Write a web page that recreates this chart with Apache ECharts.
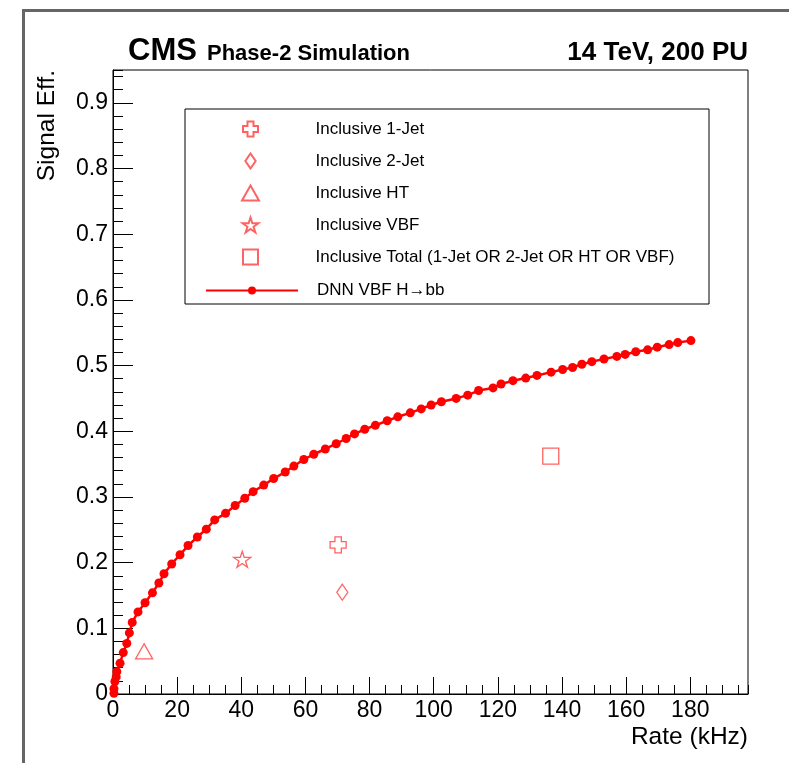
<!DOCTYPE html>
<html>
<head>
<meta charset="utf-8">
<script src="https://cdn.jsdelivr.net/npm/echarts@6/dist/echarts.min.js"></script>
<style>
html,body{margin:0;padding:0;background:#fff;}
#chart{width:789px;height:763px;}
</style>
</head>
<body>
<div id="chart"></div>
<script>
// ---- data ----
var dnnRate = [0.3,0.3,0.6,1.0,1.2,2.2,3.2,4.3,5.1,6.0,7.8,10.0,12.3,14.3,15.9,18.3,20.9,23.4,26.3,29.1,31.7,35.1,38.1,41.1,43.7,47.0,50.1,53.7,56.4,59.5,62.6,66.2,69.6,72.7,75.3,78.5,81.8,85.5,88.8,92.7,96.1,99.2,102.4,107.0,110.6,114.0,118.5,121.0,124.7,128.7,132.2,136.6,140.2,143.3,146.2,149.3,153.1,157.1,159.7,163.0,166.7,169.7,173.4,176.1,180.2];
var dnnEff = [0.001,0.008,0.019,0.026,0.034,0.047,0.063,0.077,0.093,0.109,0.125,0.139,0.154,0.169,0.183,0.198,0.212,0.226,0.239,0.251,0.265,0.275,0.287,0.298,0.308,0.318,0.328,0.338,0.347,0.357,0.365,0.373,0.381,0.389,0.396,0.403,0.409,0.416,0.422,0.428,0.434,0.440,0.445,0.450,0.455,0.462,0.466,0.472,0.477,0.481,0.485,0.490,0.494,0.497,0.502,0.506,0.510,0.514,0.517,0.521,0.524,0.528,0.532,0.535,0.538];
var seriesNames = ['Inclusive 1-Jet','Inclusive 2-Jet','Inclusive HT','Inclusive VBF','Inclusive Total (1-Jet OR 2-Jet OR HT OR VBF)','DNN VBF H\u2192bb'];
var oneJet = [70.2, 0.227];
var twoJet = [71.5, 0.155];
var incHT = [9.7, 0.065];
var incVBF = [40.3, 0.205];
var incTotal = [136.5, 0.362];
var xTicks = {min:0, max:198, major:20, minor:5};
var yTicks = {min:0, max:0.95, major:0.1, minor:0.02};

// ---- chart ----
var FONT = '"Liberation Sans", Arial, Helvetica, sans-serif';
var RED = '#ff0000';
var MRED = '#ff3b3b';
var crossPath = 'path://M3,0H7V3H10V7H7V10H3V7H0V3H3Z';
var starPath = 'path://M100,0L122.45,69.1L195.1,69.1L136.3,111.8L158.8,180.9L100,138.2L41.2,180.9L63.7,111.8L4.9,69.1L77.55,69.1Z';
var diamondPath = 'path://M5.5,0L11,8L5.5,16L0,8Z';
var trianglePath = 'path://M8.5,0L17,15L0,15Z';
var squarePath = 'path://M0,0H16V16H0Z';

function openMarker(name, pt, symbol, size){
  return {
    name: name, type:'scatter', xAxisIndex:0, yAxisIndex:0,
    data:[pt], symbol:symbol, symbolSize:size, symbolKeepAspect:false,
    itemStyle:{color:'rgba(255,255,255,0)', borderColor:MRED, borderWidth:1.3},
    emphasis:{disabled:true}, z:5
  };
}

var dnnData = dnnRate.map(function(r,i){return [r, dnnEff[i]];});

var chart = echarts.init(document.getElementById('chart'), null, {renderer:'canvas'});
var legendText = {fontSize:17, fontFamily:FONT, color:'#000', padding:[0,0,0,14], lineHeight:15};
var option = {
  animation:false,
  backgroundColor:'#fff',
  grid:{left:113, top:70, width:635, height:624, show:true, borderColor:'#000', borderWidth:1, backgroundColor:'#fff', containLabel:false},
  xAxis:[
    {type:'value', min:xTicks.min, max:xTicks.max, interval:xTicks.major, position:'bottom',
     axisLine:{show:true, lineStyle:{color:'#000', width:1}},
     axisTick:{show:true, inside:true, length:17, lineStyle:{color:'#000', width:1}},
     axisLabel:{show:true, showMaxLabel:false, margin:5, fontSize:23, fontFamily:FONT, color:'#000'},
     splitLine:{show:false}},
    {type:'value', min:xTicks.min, max:xTicks.max, interval:xTicks.minor, position:'bottom',
     axisLine:{show:false}, axisLabel:{show:false}, splitLine:{show:false},
     axisTick:{show:true, inside:true, length:9, lineStyle:{color:'#000', width:1}}}
  ],
  yAxis:[
    {type:'value', min:yTicks.min, max:yTicks.max, interval:yTicks.major, position:'left',
     axisLine:{show:true, lineStyle:{color:'#000', width:1}},
     axisTick:{show:true, inside:true, length:20, lineStyle:{color:'#000', width:1}},
     axisLabel:{show:true, showMaxLabel:false, margin:5, fontSize:23, fontFamily:FONT, color:'#000',
       formatter:function(v){return v===0?'0':v.toFixed(1);}},
     splitLine:{show:false}},
    {type:'value', min:yTicks.min, max:yTicks.max, interval:yTicks.minor, position:'left',
     axisLine:{show:false}, axisLabel:{show:false}, splitLine:{show:false},
     axisTick:{show:true, inside:true, length:10, lineStyle:{color:'#000', width:1}}}
  ],
  legend:[
    {data:seriesNames.slice(0,5), orient:'vertical', left:241, top:120.5, padding:0,
     itemWidth:92, itemHeight:15, itemGap:15, selectedMode:false, symbolKeepAspect:true,
     textStyle:legendText},
    {data:[seriesNames[5]], orient:'vertical', left:205, top:282, padding:0,
     itemWidth:92, itemHeight:10, selectedMode:false,
     textStyle:legendText}
  ],
  graphic:[
    {type:'rect', left:21, top:8, shape:{x:0,y:0,width:800,height:800}, style:{fill:'none', stroke:'#666', lineWidth:3}, silent:true, z:-10},
    {type:'rect', shape:{x:185, y:109, width:524, height:195}, style:{fill:'none', stroke:'#000', lineWidth:1}, silent:true, z:1},
    {type:'text', x:128, y:51, style:{text:'CMS', font:'bold 31px '+FONT, fill:'#000', textVerticalAlign:'middle', textAlign:'left'}},
    {type:'text', x:207, y:54, style:{text:'Phase-2 Simulation', font:'bold 22px '+FONT, fill:'#000', textVerticalAlign:'middle', textAlign:'left'}},
    {type:'text', x:748, y:53, style:{text:'14 TeV, 200 PU', font:'bold 26px '+FONT, fill:'#000', textVerticalAlign:'middle', textAlign:'right'}},
    {type:'text', x:748, y:737, style:{text:'Rate (kHz)', font:'24.5px '+FONT, fill:'#000', textVerticalAlign:'middle', textAlign:'right'}},
    {type:'text', x:47, y:70, rotation:Math.PI/2, style:{text:'Signal Eff.', font:'24.5px '+FONT, fill:'#000', textVerticalAlign:'middle', textAlign:'right'}}
  ],
  series:[
    openMarker(seriesNames[0], oneJet, crossPath, [16,16]),
    openMarker(seriesNames[1], twoJet, diamondPath, [11,16]),
    openMarker(seriesNames[2], incHT, trianglePath, [17,15]),
    openMarker(seriesNames[3], incVBF, starPath, [17,16]),
    openMarker(seriesNames[4], incTotal, squarePath, [16,16]),
    {name:seriesNames[5], type:'line', xAxisIndex:0, yAxisIndex:0, data:dnnData,
     symbol:'circle', symbolSize:9, showSymbol:true, showAllSymbol:true,
     lineStyle:{color:RED, width:2.5}, itemStyle:{color:RED},
     emphasis:{disabled:true}, z:4}
  ]
};
chart.setOption(option);
</script>
</body>
</html>
